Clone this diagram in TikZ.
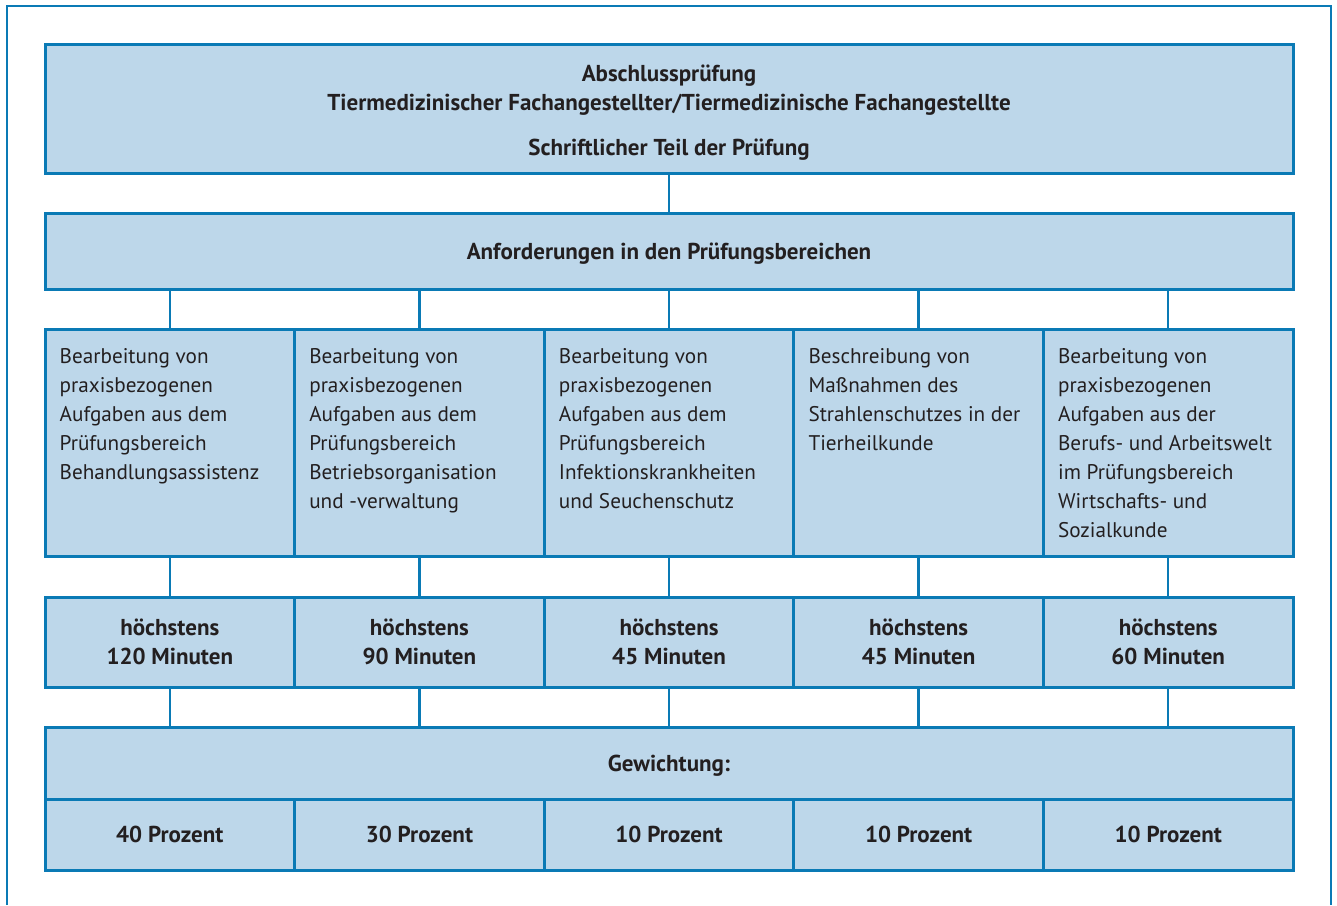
\documentclass[tikz,border=0pt]{standalone}
\usepackage{fontspec}
\setmainfont{PT Sans}
\definecolor{rahmenblau}{HTML}{0A7AB5}
\definecolor{feldblau}{HTML}{BDD7EA}
\definecolor{schrift}{HTML}{231F20}
\tikzset{
  feld/.style={draw=rahmenblau, fill=feldblau, line width=3pt, inner sep=0pt,
    text=schrift, align=center, font=\bfseries\fontsize{23}{29}\selectfont},
  spalte/.style={feld, minimum width=249.6pt},
  einzeilig/.style={text depth=0pt},
  fliesstext/.style={anchor=north west, inner sep=0pt, text=schrift, align=left,
    font=\fontsize{21.2}{29}\selectfont},
  verbinder/.style={draw=rahmenblau, line width=2.5pt}
}
\begin{document}
\begin{tikzpicture}[x=1pt,y=-1pt]
    \useasboundingbox (0,0) rectangle (1337,905);
    % aeusserer Rahmen
    \draw[rahmenblau, line width=2pt] (7,905) -- (7,6) -- (1331,6) -- (1331,905);
    % Kopf
    \node[feld, minimum width=1248pt, minimum height=129pt] (kopf) at (669,108.5)
      {\rule{0pt}{25pt}Abschlussprüfung\\Tiermedizinischer Fachangestellter/Tiermedizinische Fachangestellte\\[16pt]Schriftlicher Teil der Prüfung};
    \node[feld, einzeilig, minimum width=1248pt, minimum height=76pt] (anf) at (669,251)
      {Anforderungen in den Prüfungsbereichen};
    % Pruefungsbereiche
    \node[spalte, minimum height=227pt] (a1) at (169.8,442.5) {};
    \node[spalte, minimum height=227pt] (a2) at (419.4,442.5) {};
    \node[spalte, minimum height=227pt] (a3) at (669,442.5) {};
    \node[spalte, minimum height=227pt] (a4) at (918.6,442.5) {};
    \node[spalte, minimum height=227pt] (a5) at (1168.2,442.5) {};
    \node[fliesstext] (t1) at ([xshift=16pt,yshift=-21pt]a1.north west)
      {Bearbeitung von\\praxisbezogenen\\Aufgaben aus dem\\Prüfungsbereich\\Behandlungsassistenz};
    \node[fliesstext] (t2) at ([xshift=16pt,yshift=-21pt]a2.north west)
      {Bearbeitung von\\praxisbezogenen\\Aufgaben aus dem\\Prüfungsbereich\\Betriebsorganisation\\und -verwaltung};
    \node[fliesstext] (t3) at ([xshift=16pt,yshift=-21pt]a3.north west)
      {Bearbeitung von\\praxisbezogenen\\Aufgaben aus dem\\Prüfungsbereich\\Infektionskrankheiten\\und Seuchenschutz};
    \node[fliesstext] (t4) at ([xshift=16pt,yshift=-21pt]a4.north west)
      {Beschreibung von\\Maßnahmen des\\Strahlenschutzes in der\\Tierheilkunde};
    \node[fliesstext] (t5) at ([xshift=16pt,yshift=-21pt]a5.north west)
      {Bearbeitung von\\praxisbezogenen\\Aufgaben aus der\\Berufs- und Arbeitswelt\\im Prüfungsbereich\\Wirtschafts- und\\Sozialkunde};
    % Zeiten
    \node[spalte, minimum height=90pt] (z1) at (169.8,642) {höchstens\\120 Minuten};
    \node[spalte, minimum height=90pt] (z2) at (419.4,642) {höchstens\\90 Minuten};
    \node[spalte, minimum height=90pt] (z3) at (669,642) {höchstens\\45 Minuten};
    \node[spalte, minimum height=90pt] (z4) at (918.6,642) {höchstens\\45 Minuten};
    \node[spalte, minimum height=90pt] (z5) at (1168.2,642) {höchstens\\60 Minuten};
    % Gewichtung
    \node[feld, einzeilig, minimum width=1248pt, minimum height=72pt] (gew) at (669,763) {Gewichtung:};
    \node[spalte, einzeilig, minimum height=71pt] (p1) at (169.8,834.5) {40 Prozent};
    \node[spalte, einzeilig, minimum height=71pt] (p2) at (419.4,834.5) {30 Prozent};
    \node[spalte, einzeilig, minimum height=71pt] (p3) at (669,834.5) {10 Prozent};
    \node[spalte, einzeilig, minimum height=71pt] (p4) at (918.6,834.5) {10 Prozent};
    \node[spalte, einzeilig, minimum height=71pt] (p5) at (1168.2,834.5) {10 Prozent};
    % Verbindungen
    \draw[verbinder] (kopf.south) -- (anf.north);
    \draw[verbinder] (anf.south -| a1.north) -- (a1.north);
    \draw[verbinder] (anf.south -| a2.north) -- (a2.north);
    \draw[verbinder] (anf.south -| a3.north) -- (a3.north);
    \draw[verbinder] (anf.south -| a4.north) -- (a4.north);
    \draw[verbinder] (anf.south -| a5.north) -- (a5.north);
    \draw[verbinder] (a1.south) -- (z1.north);
    \draw[verbinder] (a2.south) -- (z2.north);
    \draw[verbinder] (a3.south) -- (z3.north);
    \draw[verbinder] (a4.south) -- (z4.north);
    \draw[verbinder] (a5.south) -- (z5.north);
    \draw[verbinder] (z1.south) -- (gew.north -| z1.south);
    \draw[verbinder] (z2.south) -- (gew.north -| z2.south);
    \draw[verbinder] (z3.south) -- (gew.north -| z3.south);
    \draw[verbinder] (z4.south) -- (gew.north -| z4.south);
    \draw[verbinder] (z5.south) -- (gew.north -| z5.south);
\end{tikzpicture}
\end{document}
